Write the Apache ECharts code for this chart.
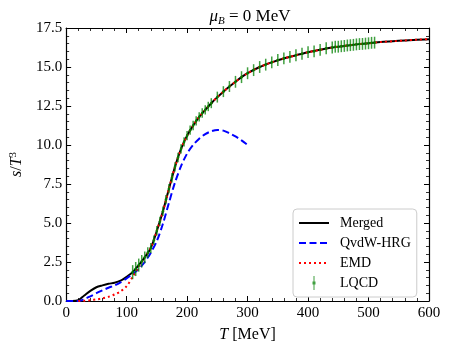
<!DOCTYPE html>
<html>
<head>
<meta charset="utf-8">
<script src="https://cdn.jsdelivr.net/npm/echarts@6/dist/echarts.min.js"></script>
<style>
  html, body { margin: 0; padding: 0; background: #fff; }
  #chart { width: 449px; height: 348px; }
</style>
</head>
<body>
<div id="chart"></div>
<script>
// temperature grid for the curves (MeV)
var curveT = [0, 10, 20, 30, 40, 50, 60, 70, 80, 90, 100, 110, 120, 130, 140, 150, 160, 170, 180, 190,
  200, 210, 220, 230, 240, 250, 260, 270, 280, 290, 300, 320, 340, 360, 380, 400, 420, 440, 460, 480,
  500, 520, 540, 560, 580, 600];
// merged s/T^3
var mergedS = [0, 0, 0.05, 0.35, 0.65, 0.88, 1.0, 1.1, 1.17, 1.3, 1.55, 1.85, 2.3, 2.8, 3.4, 4.5, 5.75, 7.2, 8.6, 9.75,
  10.6, 11.25, 11.8, 12.25, 12.68, 13.07, 13.42, 13.75, 14.05, 14.35, 14.6, 15.0, 15.3, 15.55, 15.75, 15.95, 16.1, 16.25, 16.35, 16.45,
  16.52, 16.6, 16.65, 16.7, 16.75, 16.78];
// EMD s/T^3 (starts at 20 MeV)
var emdT = [20, 30, 40, 50, 60, 70, 80, 90, 100, 110, 120, 130, 140, 150, 160, 170, 180, 190,
  200, 210, 220, 230, 240, 250, 260, 270, 280, 290, 300, 320, 340, 360, 380, 400, 420, 440, 460, 480,
  500, 520, 540, 560, 580, 600];
var emdS = [0, 0.02, 0.05, 0.1, 0.17, 0.27, 0.42, 0.62, 0.95, 1.55, 2.2, 2.8, 3.4, 4.5, 5.75, 7.2, 8.6, 9.75,
  10.6, 11.25, 11.8, 12.25, 12.68, 13.07, 13.42, 13.75, 14.05, 14.35, 14.6, 15.0, 15.3, 15.55, 15.75, 15.95, 16.1, 16.25, 16.35, 16.45,
  16.52, 16.6, 16.65, 16.7, 16.75, 16.78];
// QvdW-HRG s/T^3 (up to 300 MeV)
var hrgT = [0, 10, 20, 30, 40, 50, 60, 70, 80, 90, 100, 110, 120, 130, 140, 150, 160, 170, 180, 190,
  200, 210, 220, 230, 240, 250, 260, 270, 280, 290, 300];
var hrgS = [0, 0, 0, 0.12, 0.3, 0.5, 0.68, 0.85, 1.0, 1.2, 1.45, 1.72, 2.05, 2.5, 3.1, 3.85, 4.95, 6.3, 7.6, 8.65,
  9.45, 10.0, 10.4, 10.7, 10.88, 10.96, 10.92, 10.75, 10.55, 10.3, 10.0];
// lattice points
var lqcdT = [110, 115, 120, 125, 130, 135, 140, 145, 150, 155, 160, 165, 170, 175, 180, 185, 190, 195, 200, 205,
  210, 215, 220, 225, 230, 235, 240, 250, 260, 270, 280, 290, 300, 310, 320, 330, 340, 350, 360, 370,
  380, 390, 400, 410, 420, 430, 440, 445, 450, 455, 460, 465, 470, 475, 480, 485, 490, 495, 500, 505, 510];
var lqcdS = [1.85, 2.05, 2.3, 2.55, 2.8, 3.1, 3.4, 3.9, 4.5, 5.1, 5.75, 6.5, 7.2, 7.9, 8.6, 9.2, 9.75, 10.2, 10.6, 10.95,
  11.25, 11.55, 11.8, 12.05, 12.25, 12.47, 12.68, 13.07, 13.42, 13.75, 14.05, 14.35, 14.6, 14.8, 15.0, 15.15, 15.3, 15.45, 15.55, 15.65,
  15.75, 15.85, 15.95, 16.0, 16.1, 16.2, 16.25, 16.3, 16.3, 16.33, 16.35, 16.38, 16.4, 16.42, 16.45, 16.47, 16.48, 16.5, 16.52, 16.55, 16.56];
var lqcdErr = [0.45, 0.45, 0.42, 0.4, 0.38, 0.35, 0.32, 0.3, 0.3, 0.3, 0.3, 0.3, 0.3, 0.3, 0.3, 0.3, 0.3, 0.3, 0.3, 0.3,
  0.3, 0.3, 0.3, 0.3, 0.3, 0.3, 0.32, 0.35, 0.35, 0.35, 0.38, 0.38, 0.38, 0.38, 0.38, 0.38, 0.38, 0.38, 0.38, 0.38,
  0.38, 0.38, 0.38, 0.38, 0.38, 0.38, 0.38, 0.38, 0.38, 0.38, 0.38, 0.38, 0.38, 0.38, 0.38, 0.38, 0.38, 0.38, 0.38, 0.38, 0.38];
var xTicks = { min: 0, max: 600, step: 100 };
var yTicks = { min: 0, max: 17.5, step: 2.5 };

var FONT = 'Liberation Serif';
var GREEN = 'rgba(0,128,0,0.75)';

var pairs = function(xs, ys) {
  var out = [];
  for (var i = 0; i < xs.length; i++) out.push([xs[i], ys[i]]);
  return out;
};
var lqcdData = [];
for (var i = 0; i < lqcdT.length; i++) lqcdData.push([lqcdT[i], lqcdS[i], lqcdErr[i]]);

var axisCommon = function(pos, isX, showLabel) {
  var r = isX ? xTicks : yTicks;
  return {
    type: 'value', position: pos, min: r.min, max: r.max, interval: r.step,
    axisLine: { show: true, onZero: false, lineStyle: { color: '#000', width: 1.2 } },
    axisTick: { show: true, inside: true, length: 5, lineStyle: { color: '#000', width: 1 } },
    minorTick: { show: true, splitNumber: 5, length: 3, lineStyle: { color: '#000', width: 0.8 } },
    splitLine: { show: false },
    axisLabel: {
      show: showLabel, color: '#000', fontFamily: FONT, fontSize: 15, margin: isX ? 5 : 4,
      formatter: function(v) { return isX ? String(v) : v.toFixed(1); }
    }
  };
};

var chart = echarts.init(document.getElementById('chart'));

var xBottom = axisCommon('bottom', true, true);
xBottom.name = '{i|T} [MeV]';
xBottom.nameLocation = 'middle';
xBottom.nameGap = 26;
xBottom.nameTextStyle = { color: '#000', fontFamily: FONT, fontSize: 16,
  rich: { i: { fontStyle: 'italic', fontFamily: FONT, fontSize: 16, color: '#000' } } };

var yLeft = axisCommon('left', false, true);
yLeft.name = '{i|s}/{i|T}{sup|3}';
yLeft.nameLocation = 'middle';
yLeft.nameGap = 40;
yLeft.nameTextStyle = { color: '#000', fontFamily: FONT, fontSize: 16,
  rich: {
    i: { fontStyle: 'italic', fontFamily: FONT, fontSize: 16, color: '#000', lineHeight: 18 },
    sup: { fontFamily: FONT, fontSize: 11, color: '#000', verticalAlign: 'top', lineHeight: 10 }
  } };

var option = {
  animation: false,
  title: {
    text: '{i|μ}{s|B}{n| = 0 MeV}',
    left: 245, textAlign: 'center', top: 2,
    textStyle: {
      fontWeight: 'normal',
      rich: {
        i: { fontFamily: FONT, fontStyle: 'italic', fontWeight: 'normal', fontSize: 17, color: '#000', lineHeight: 20 },
        s: { fontFamily: FONT, fontStyle: 'italic', fontWeight: 'normal', fontSize: 11, color: '#000', lineHeight: 10, verticalAlign: 'bottom' },
        n: { fontFamily: FONT, fontWeight: 'normal', fontSize: 17, color: '#000', lineHeight: 20 }
      }
    }
  },
  grid: { left: 61, right: 20, top: 28, bottom: 47 },
  xAxis: [xBottom, axisCommon('top', true, false)],
  yAxis: [yLeft, axisCommon('right', false, false)],
  legend: {
    orient: 'vertical', left: 293, top: 209,
    padding: [7, 6, 7, 5],
    itemWidth: 30, itemHeight: 14, itemGap: 6,
    backgroundColor: '#fff', borderColor: '#ccc', borderWidth: 1, borderRadius: 4,
    itemStyle: { opacity: 0 },
    textStyle: { fontFamily: FONT, fontSize: 14, color: '#000', padding: [0, 0, 0, 6] },
    data: ['Merged', 'QvdW-HRG', 'EMD',
      { name: 'LQCD', itemStyle: { opacity: 1, color: GREEN },
        icon: 'path://M1,0 L2,0 L2,14 L1,14 Z M0,5.5 L3,5.5 L3,8.5 L0,8.5 Z' }]
  },
  series: [
    {
      name: 'Merged', type: 'line', data: pairs(curveT, mergedS), smooth: 0.3,
      symbol: 'none', showSymbol: false, z: 2,
      itemStyle: { color: '#000' },
      lineStyle: { color: '#000', width: 2 }
    },
    {
      name: 'QvdW-HRG', type: 'line', data: pairs(hrgT, hrgS), smooth: 0.3,
      symbol: 'none', showSymbol: false, z: 3,
      itemStyle: { color: '#0000ff' },
      lineStyle: { color: '#0000ff', width: 2, type: [7, 3.5] }
    },
    {
      name: 'EMD', type: 'line', data: pairs(emdT, emdS), smooth: 0.3,
      symbol: 'none', showSymbol: false, z: 4,
      itemStyle: { color: '#ff0000' },
      lineStyle: { color: '#ff0000', width: 2, type: [2, 3] }
    },
    {
      name: 'LQCD', type: 'custom', data: lqcdData, z: 5,
      itemStyle: { color: GREEN },
      encode: { x: 0, y: 1 },
      renderItem: function(params, api) {
        var x = api.value(0), y = api.value(1), e = api.value(2);
        var lo = api.coord([x, y - e]);
        var hi = api.coord([x, y + e]);
        var c = api.coord([x, y]);
        return {
          type: 'group',
          children: [
            { type: 'line', shape: { x1: lo[0], y1: lo[1], x2: hi[0], y2: hi[1] },
              style: { stroke: GREEN, lineWidth: 1.5 } },
            { type: 'circle', shape: { cx: c[0], cy: c[1], r: 1.3 },
              style: { fill: 'rgba(0,128,0,0.9)' } }
          ]
        };
      }
    }
  ]
};
chart.setOption(option);
</script>
</body>
</html>
